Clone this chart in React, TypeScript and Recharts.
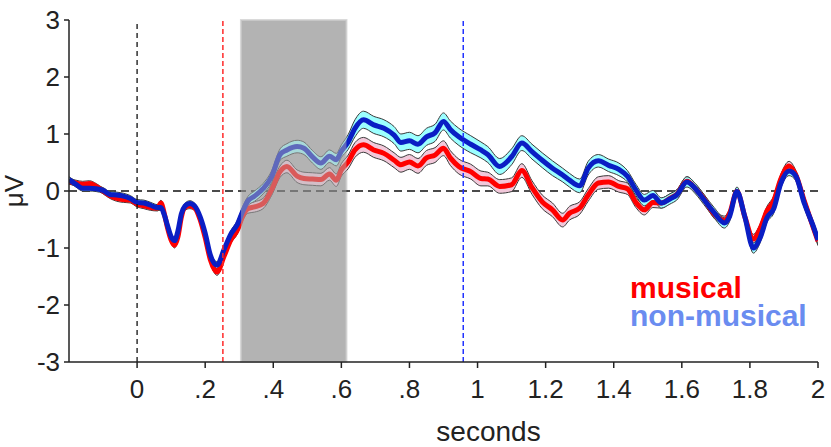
import {
  ComposedChart,
  Line,
  Area,
  XAxis,
  YAxis,
  ReferenceLine,
  ReferenceArea,
} from 'recharts';

// time in seconds
const times = [
  -0.2, -0.18, -0.16, -0.14, -0.12, -0.1, -0.08, -0.06, -0.04, -0.02,
  0, 0.02, 0.04, 0.06, 0.07, 0.08, 0.09, 0.1, 0.11, 0.12,
  0.13, 0.14, 0.155, 0.17, 0.185, 0.2, 0.215, 0.235, 0.255, 0.275, 0.295,
  0.31, 0.325, 0.345, 0.37, 0.395, 0.42, 0.44, 0.47, 0.49, 0.515, 0.54, 0.565, 0.585, 0.6, 0.62,
  0.64, 0.665, 0.695, 0.725, 0.755, 0.775, 0.8, 0.825, 0.85, 0.875, 0.9, 0.92, 0.945, 0.98, 1.01, 1.03,
  1.065, 1.1, 1.13, 1.16, 1.19, 1.22, 1.25, 1.27, 1.3, 1.325, 1.355, 1.385, 1.415, 1.44,
  1.465, 1.49, 1.515, 1.54, 1.565, 1.585, 1.615, 1.64, 1.665, 1.695, 1.725, 1.74,
  1.762, 1.785, 1.81, 1.83, 1.85, 1.87, 1.89, 1.915, 1.935, 1.96, 1.985, 2.0,
];

// grand averages (µV)
const musical = [
  0.17, 0.14, 0.12, 0.13, 0.08, 0.0, -0.08, -0.13, -0.15, -0.16,
  -0.23, -0.26, -0.29, -0.3, -0.21, -0.4, -0.66, -0.86, -0.95, -0.8,
  -0.46, -0.29, -0.26, -0.3, -0.5, -0.82, -1.2, -1.42, -1.15, -0.86, -0.68,
  -0.44, -0.31, -0.28, -0.22, 0.02, 0.34, 0.43, 0.26, 0.22, 0.21, 0.2, 0.3, 0.19, 0.37, 0.51,
  0.72, 0.81, 0.72, 0.66, 0.54, 0.46, 0.51, 0.44, 0.58, 0.63, 0.75, 0.58, 0.43, 0.34, 0.22, 0.21,
  0.08, 0.11, 0.36, 0.06, -0.19, -0.33, -0.51, -0.39, -0.3, -0.07, 0.14, 0.16, 0.08, 0.04,
  -0.2, -0.33, -0.2, -0.21, -0.13, -0.06, 0.17, 0.04, -0.14, -0.4, -0.52, -0.4,
  -0.01, -0.45, -0.84, -0.66, -0.35, -0.17, 0.2, 0.44, 0.28, -0.18, -0.62, -0.88,
];

const nonMusical = [
  0.2, 0.12, 0.05, 0.05, 0.04, 0.01, -0.06, -0.07, -0.09, -0.13,
  -0.2, -0.21, -0.25, -0.29, -0.29, -0.42, -0.62, -0.8, -0.87, -0.7,
  -0.4, -0.27, -0.22, -0.27, -0.45, -0.74, -1.12, -1.3, -1.03, -0.76, -0.58,
  -0.36, -0.18, -0.09, 0.04, 0.25, 0.64, 0.72, 0.78, 0.75, 0.6, 0.49, 0.61, 0.55, 0.7, 0.86,
  1.1, 1.25, 1.16, 1.1, 0.98, 0.85, 0.88, 0.82, 0.95, 1.02, 1.22, 1.08, 0.95, 0.82, 0.72, 0.64,
  0.43, 0.6, 0.84, 0.69, 0.54, 0.4, 0.28, 0.19, 0.09, 0.4, 0.53, 0.45, 0.38, 0.26,
  0.02, -0.16, -0.08, -0.21, -0.14, -0.07, 0.16, 0.04, -0.15, -0.38, -0.56, -0.45,
  -0.01, -0.45, -1.0, -0.82, -0.47, -0.31, 0.12, 0.35, 0.26, -0.22, -0.6, -0.86,
];

// standard error half-widths (µV)
const musicalErr = [
  0.05, 0.05, 0.05, 0.05, 0.05, 0.05, 0.05, 0.05, 0.05, 0.05,
  0.05, 0.05, 0.05, 0.05, 0.05, 0.05, 0.05, 0.05, 0.05, 0.05,
  0.05, 0.05, 0.05, 0.05, 0.05, 0.06, 0.06, 0.06, 0.06, 0.06, 0.07,
  0.08, 0.08, 0.09, 0.09, 0.1, 0.1, 0.11, 0.11, 0.11, 0.11, 0.11, 0.11, 0.11, 0.11, 0.12,
  0.13, 0.13, 0.13, 0.13, 0.13, 0.13, 0.13, 0.13, 0.13, 0.13, 0.13, 0.13, 0.13, 0.13, 0.13, 0.12,
  0.12, 0.12, 0.12, 0.12, 0.12, 0.12, 0.12, 0.12, 0.11, 0.11, 0.11, 0.11, 0.1, 0.1,
  0.09, 0.09, 0.09, 0.09, 0.08, 0.08, 0.08, 0.08, 0.08, 0.08, 0.08, 0.08,
  0.07, 0.07, 0.08, 0.08, 0.08, 0.08, 0.08, 0.08, 0.08, 0.08, 0.08, 0.08,
];

const nonMusicalErr = [
  0.05, 0.05, 0.05, 0.05, 0.05, 0.05, 0.05, 0.05, 0.05, 0.05,
  0.05, 0.05, 0.05, 0.05, 0.05, 0.05, 0.05, 0.05, 0.05, 0.05,
  0.05, 0.05, 0.05, 0.05, 0.05, 0.06, 0.06, 0.06, 0.06, 0.06, 0.07,
  0.08, 0.08, 0.09, 0.09, 0.1, 0.1, 0.11, 0.11, 0.11, 0.11, 0.11, 0.11, 0.11, 0.11, 0.13,
  0.15, 0.15, 0.15, 0.15, 0.15, 0.15, 0.15, 0.15, 0.15, 0.15, 0.15, 0.15, 0.15, 0.15, 0.14, 0.14,
  0.14, 0.14, 0.13, 0.13, 0.13, 0.13, 0.12, 0.12, 0.12, 0.12, 0.11, 0.11, 0.11, 0.1,
  0.1, 0.1, 0.09, 0.09, 0.09, 0.09, 0.09, 0.09, 0.09, 0.09, 0.09, 0.09,
  0.08, 0.08, 0.09, 0.09, 0.08, 0.08, 0.08, 0.08, 0.08, 0.08, 0.08, 0.08,
];

const xTicks = [0, 0.2, 0.4, 0.6, 0.8, 1, 1.2, 1.4, 1.6, 1.8, 2];
const yTicks = [-3, -2, -1, 0, 1, 2, 3];
const analysisWindow = [0.305, 0.615];
const musicalLatency = 0.252;
const nonMusicalLatency = 0.958;

const FONT = '"Liberation Sans", Arial, Helvetica, sans-serif';
const AXIS = '#222';

// .2 instead of 0.2, like the original figure
const fmtTick = (v: number) => {
  const s = String(Math.round(v * 10) / 10);
  return s.startsWith('0.') ? s.slice(1) : s;
};

export default function App() {
  const data = times.map((t, i) => ({
    t,
    musical: musical[i],
    nonMusical: nonMusical[i],
    musicalBand: [musical[i] - musicalErr[i], musical[i] + musicalErr[i]],
    nonMusicalBand: [nonMusical[i] - nonMusicalErr[i], nonMusical[i] + nonMusicalErr[i]],
  }));

  return (
    <div style={{ position: 'relative', width: 831, height: 447, fontFamily: FONT }}>
      <style>{'body{margin:0}'}</style>
      <ComposedChart
        width={831}
        height={447}
        data={data}
        margin={{ top: 20, right: 13, left: 9, bottom: 0 }}
      >
        <XAxis
          dataKey="t"
          type="number"
          domain={[-0.2, 2]}
          ticks={xTicks}
          allowDataOverflow
          tickFormatter={fmtTick}
          height={85}
          tickSize={6}
          tickMargin={12}
          stroke={AXIS}
          strokeWidth={1.5}
          tick={{ fill: AXIS, fontSize: 26, fontFamily: FONT }}
          label={{
            value: 'seconds',
            position: 'insideBottom',
            offset: 6,
            dx: 45,
            fill: AXIS,
            fontSize: 28,
            fontFamily: FONT,
          }}
        />
        <YAxis
          type="number"
          domain={[-3, 3]}
          ticks={yTicks}
          width={60}
          tickSize={5}
          tickMargin={4}
          stroke={AXIS}
          strokeWidth={1.5}
          tick={{ fill: AXIS, fontSize: 26, fontFamily: FONT }}
          label={{
            content: (props: any) => {
              const vb = props.viewBox || { y: 20, height: 342 };
              const cy = vb.y + vb.height / 2;
              return (
                <text
                  x={14}
                  y={cy}
                  transform={`rotate(-90, 14, ${cy})`}
                  textAnchor="middle"
                  dominantBaseline="central"
                  fill={AXIS}
                  fontSize={26}
                  fontFamily={FONT}
                >
                  μV
                </text>
              );
            },
          }}
        />

        <ReferenceArea
          x1={analysisWindow[0]}
          x2={analysisWindow[1]}
          y1={-3}
          y2={3}
          fill="#b3b3b3"
          fillOpacity={1}
          stroke="#dadada"
          strokeWidth={2}
          zIndex={-50}
        />
        <ReferenceLine y={0} stroke="#111" strokeDasharray="8 5" strokeWidth={1.5} zIndex={50} />

        <Area
          type="monotone"
          dataKey="musicalBand"
          fill="#f2c8da"
          fillOpacity={1}
          stroke="#3a3a3a"
          strokeWidth={1}
          isAnimationActive={false}
          activeDot={false}
        />
        <Area
          type="monotone"
          dataKey="nonMusicalBand"
          fill="#9cffff"
          fillOpacity={1}
          stroke="#3a3a3a"
          strokeWidth={1}
          isAnimationActive={false}
          activeDot={false}
        />
        <Line
          type="monotone"
          dataKey="musical"
          stroke="#ff0000"
          strokeWidth={5}
          dot={false}
          isAnimationActive={false}
        />
        <Line
          type="monotone"
          dataKey="nonMusical"
          stroke="#0a1ec4"
          strokeWidth={5}
          dot={false}
          isAnimationActive={false}
        />

        <ReferenceLine x={0} stroke="#111" strokeDasharray="5 4" strokeWidth={1.3} zIndex={450} />
        <ReferenceLine x={musicalLatency} stroke="#ff2a2a" strokeDasharray="5 3" strokeWidth={1.5} zIndex={450} />
        <ReferenceLine x={nonMusicalLatency} stroke="#2233ff" strokeDasharray="5 3" strokeWidth={1.5} zIndex={450} />

        <ReferenceArea
          x1={analysisWindow[0]}
          x2={analysisWindow[1]}
          y1={-3}
          y2={3}
          fill="#b3b3b3"
          fillOpacity={0.5}
          stroke="none"
          zIndex={460}
        />
      </ComposedChart>

      <div
        style={{
          position: 'absolute',
          left: 630,
          top: 274,
          fontWeight: 'bold',
          fontSize: 30,
          lineHeight: '28px',
          whiteSpace: 'nowrap',
        }}
      >
        <div style={{ color: '#ff0000' }}>musical</div>
        <div style={{ color: '#6a8cf0' }}>non-musical</div>
      </div>
    </div>
  );
}
